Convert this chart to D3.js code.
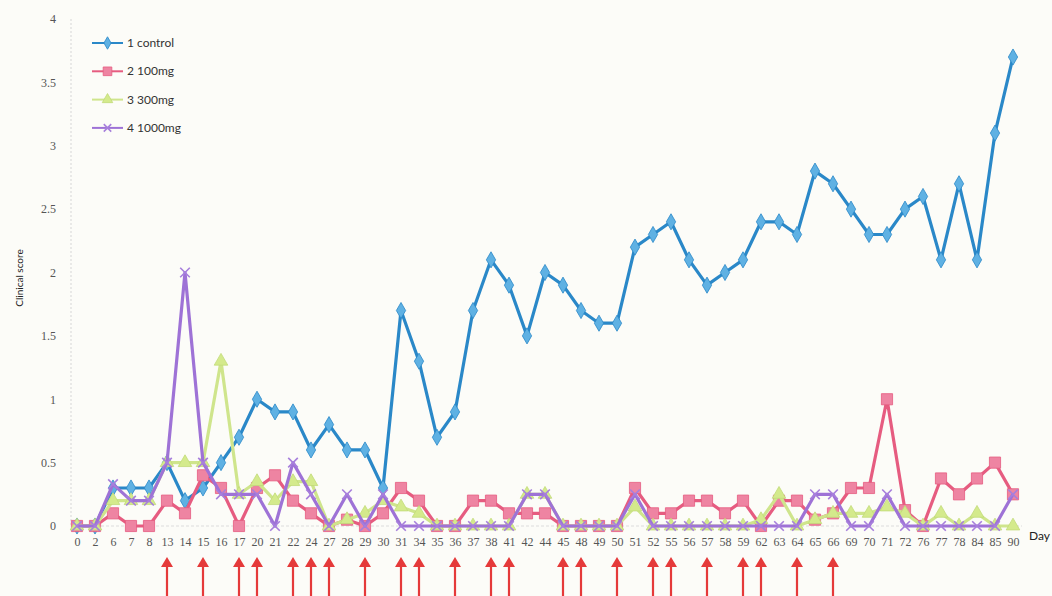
<!DOCTYPE html>
<html>
<head>
<meta charset="utf-8">
<script src="https://cdn.jsdelivr.net/npm/d3@7"></script>
<style>
  html, body { margin: 0; padding: 0; background: #fcfcf8; }
  svg { display: block; }
</style>
</head>
<body>
<svg id="chart" width="1052" height="596"></svg>
<script>
// Observation days (category axis)
const days = [0, 2, 6, 7, 8, 13, 14, 15, 16, 17, 20, 21, 22, 24, 27, 28, 29, 30, 31, 34,
  35, 36, 37, 38, 41, 42, 44, 45, 48, 49, 50, 51, 52, 55, 56, 57, 58, 59, 62, 63,
  64, 65, 66, 69, 70, 71, 72, 76, 77, 78, 84, 85, 90];

// Mean clinical score per group
const control = [0, 0, 0.3, 0.3, 0.3, 0.5, 0.2, 0.3, 0.5, 0.7, 1.0, 0.9, 0.9, 0.6, 0.8, 0.6, 0.6, 0.3, 1.7, 1.3,
  0.7, 0.9, 1.7, 2.1, 1.9, 1.5, 2.0, 1.9, 1.7, 1.6, 1.6, 2.2, 2.3, 2.4, 2.1, 1.9, 2.0, 2.1, 2.4, 2.4,
  2.3, 2.8, 2.7, 2.5, 2.3, 2.3, 2.5, 2.6, 2.1, 2.7, 2.1, 3.1, 3.7];
const dose100 = [0, 0, 0.1, 0, 0, 0.2, 0.1, 0.4, 0.3, 0, 0.3, 0.4, 0.2, 0.1, 0, 0.05, 0, 0.1, 0.3, 0.2,
  0, 0, 0.2, 0.2, 0.1, 0.1, 0.1, 0, 0, 0, 0, 0.3, 0.1, 0.1, 0.2, 0.2, 0.1, 0.2, 0, 0.2,
  0.2, 0.05, 0.1, 0.3, 0.3, 1.0, 0.125, 0, 0.375, 0.25, 0.375, 0.5, 0.25];
const dose300 = [0, 0, 0.2, 0.2, 0.2, 0.5, 0.5, 0.5, 1.3, 0.25, 0.35, 0.2, 0.35, 0.35, 0, 0.05, 0.1, 0.2, 0.15, 0.1,
  0, 0, 0, 0, 0, 0.25, 0.25, 0, 0, 0, 0, 0.15, 0, 0, 0, 0, 0, 0, 0.05, 0.25,
  0, 0.05, 0.1, 0.1, 0.1, 0.15, 0.1, 0, 0.1, 0, 0.1, 0, 0];
const dose1000 = [0, 0, 0.33, 0.2, 0.2, 0.5, 2.0, 0.5, 0.25, 0.25, 0.25, 0, 0.5, 0.25, 0, 0.25, 0, 0.25, 0, 0,
  0, 0, 0, 0, 0, 0.25, 0.25, 0, 0, 0, 0, 0.25, 0, 0, 0, 0, 0, 0, 0, 0,
  0, 0.25, 0.25, 0, 0, 0.25, 0, 0, 0, 0, 0, 0, 0.25];

// Days on which a dose was given (red arrows under the axis)
const doseDays = [13, 15, 17, 20, 22, 24, 27, 29, 31, 34, 36, 38, 41, 45, 48, 50, 52, 55, 57, 59, 62, 64, 66];

const yTicks = [0, 0.5, 1, 1.5, 2, 2.5, 3, 3.5, 4];
const seriesNames = ["1  control", "2  100mg", "3  300mg", "4  1000mg"];

const groups = [
  { name: seriesNames[0], values: control, line: "#2a88c8", fill: "#5fb1e3", marker: "diamond" },
  { name: seriesNames[1], values: dose100, line: "#e65c80", fill: "#ee84a2", marker: "square" },
  { name: seriesNames[2], values: dose300, line: "#cfe58c", fill: "#d4ea8c", marker: "triangle" },
  { name: seriesNames[3], values: dose1000, line: "#9e72d6", fill: "#a77fdc", marker: "x" }
];

const svg = d3.select("#chart");

const x = d3.scalePoint().domain(days).range([68, 1022]).padding(0.5);
const y = d3.scaleLinear().domain([0, 4]).range([526, 19]);

// Axes lines (faint)
svg.append("line")
  .attr("x1", 71).attr("x2", 71).attr("y1", y(4)).attr("y2", y(0))
  .attr("stroke", "#d6d6d6").attr("stroke-width", 1).attr("stroke-dasharray", "2,2");
svg.append("line")
  .attr("x1", 71).attr("x2", 1022).attr("y1", y(0)).attr("y2", y(0))
  .attr("stroke", "#dcdcdc").attr("stroke-width", 1).attr("stroke-dasharray", "3,2");

// Y tick labels
const yAxis = d3.axisLeft(y).tickValues(yTicks).tickSize(0).tickPadding(0)
  .tickFormat(d => String(d));
const gy = svg.append("g").attr("transform", "translate(56,0)").call(yAxis);
gy.select(".domain").remove();
gy.selectAll("text")
  .attr("font-family", "Liberation Serif, serif")
  .attr("font-size", 12)
  .attr("fill", "#555");

// X tick labels
const xAxis = d3.axisBottom(x).tickSize(0).tickPadding(0);
const gx = svg.append("g").attr("transform", "translate(0,537)").call(xAxis);
gx.select(".domain").remove();
gx.selectAll("text")
  .attr("font-family", "Liberation Serif, serif")
  .attr("font-size", 12)
  .attr("fill", "#555");

// Axis titles
svg.append("text")
  .attr("transform", "translate(23,278) rotate(-90)")
  .attr("text-anchor", "middle")
  .attr("font-family", "Lato, sans-serif")
  .attr("font-size", 10)
  .attr("fill", "#222")
  .text("Clinical score");
svg.append("text")
  .attr("x", 1029).attr("y", 540)
  .attr("font-family", "Lato, sans-serif")
  .attr("font-size", 12)
  .attr("fill", "#222")
  .text("Day");

// Marker drawing
function drawMarker(sel, kind, g, size) {
  const s = size || 1;
  if (kind === "diamond") {
    sel.append("path").attr("d", d3.symbol(d3.symbolDiamond, 75 * s)())
      .attr("fill", g.fill).attr("stroke", g.line).attr("stroke-width", 0.8);
  } else if (kind === "square") {
    sel.append("path").attr("d", d3.symbol(d3.symbolSquare, 125 * s)())
      .attr("fill", g.fill).attr("stroke", g.line).attr("stroke-width", 0.8);
  } else if (kind === "triangle") {
    sel.append("path").attr("d", d3.symbol(d3.symbolTriangle, 80 * s)())
      .attr("fill", g.fill).attr("stroke", "#c2da78").attr("stroke-width", 0.8);
  } else {
    const r = 4.8 * Math.sqrt(s);
    sel.append("path").attr("d", `M${-r},${-r}L${r},${r}M${-r},${r}L${r},${-r}`)
      .attr("stroke", g.fill).attr("stroke-width", 1.6).attr("fill", "none");
  }
}

// Series lines and markers
const lineGen = d3.line().x((d, i) => x(days[i])).y(d => y(d));
groups.forEach(g => {
  const gg = svg.append("g");
  gg.append("path")
    .attr("d", lineGen(g.values))
    .attr("fill", "none")
    .attr("stroke", g.line)
    .attr("stroke-width", 3.2)
    .attr("stroke-linejoin", "round");
  gg.selectAll("g.pt").data(g.values).join("g")
    .attr("class", "pt")
    .attr("transform", (d, i) => `translate(${x(days[i])},${y(d)})`)
    .each(function () { drawMarker(d3.select(this), g.marker, g); });
});

// Legend
const legend = svg.append("g");
groups.forEach((g, i) => {
  const ly = 43 + i * 28.3;
  legend.append("line")
    .attr("x1", 92).attr("x2", 123).attr("y1", ly).attr("y2", ly)
    .attr("stroke", g.line).attr("stroke-width", 2);
  const m = legend.append("g").attr("transform", `translate(107.5,${ly})`);
  drawMarker(m, g.marker, g, 0.6);
  legend.append("text")
    .attr("x", 127).attr("y", ly + 4)
    .attr("font-family", "Lato, sans-serif")
    .attr("font-size", 12)
    .attr("fill", "#333")
    .text(g.name);
});

// Dosing arrows
const arrows = svg.append("g");
doseDays.forEach(dd => {
  const ax = x(dd);
  arrows.append("line")
    .attr("x1", ax).attr("x2", ax).attr("y1", 564).attr("y2", 596)
    .attr("stroke", "#e53a3a").attr("stroke-width", 2.2);
  arrows.append("path")
    .attr("d", `M${ax},557L${ax + 6},567L${ax - 6},567Z`)
    .attr("fill", "#e53a3a");
});
</script>
</body>
</html>
